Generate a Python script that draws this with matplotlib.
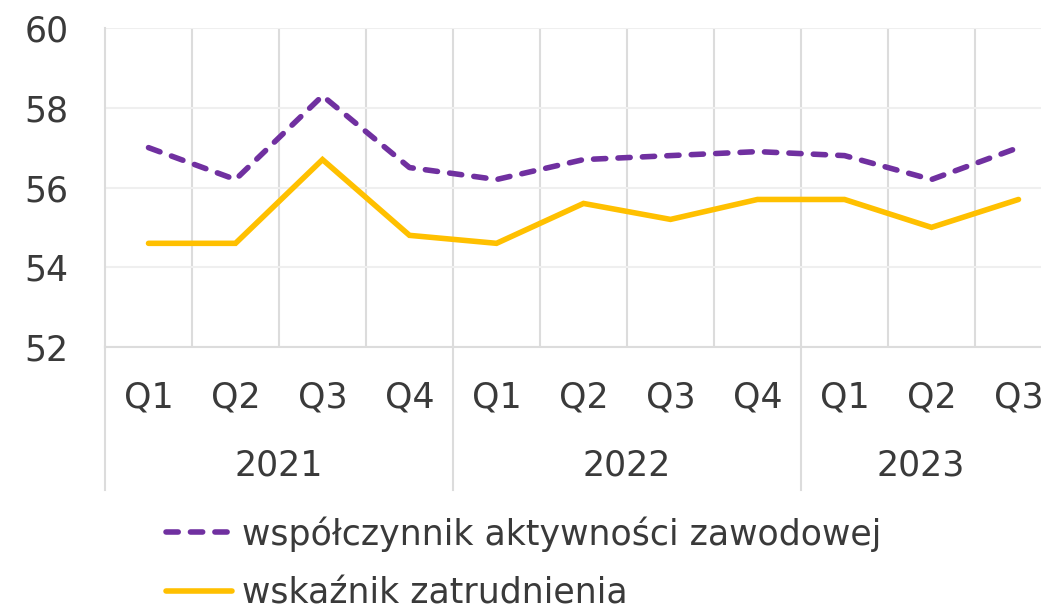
import matplotlib
matplotlib.use("Agg")
import matplotlib.pyplot as plt
import matplotlib.transforms as mtransforms
from matplotlib.lines import Line2D
import numpy as np

# data
quarters = ["Q1", "Q2", "Q3", "Q4", "Q1", "Q2", "Q3", "Q4", "Q1", "Q2", "Q3"]
years = ["2021", "2022", "2023"]
year_start = [0, 4, 8]  # index of first quarter in each year
activity = [57.0, 56.2, 58.3, 56.5, 56.2, 56.7, 56.8, 56.9, 56.8, 56.2, 57.0]
employment = [54.6, 54.6, 56.7, 54.8, 54.6, 55.6, 55.2, 55.7, 55.7, 55.0, 55.7]
labels = ["współczynnik aktywności zawodowej", "wskaźnik zatrudnienia"]

purple = "#7030A0"
yellow = "#FFC000"
txt = "#3a3a3a"
plt.rcParams['font.family'] = ['DejaVu Sans']
fs = 25

W, H = 1041, 609
fig = plt.figure(figsize=(W / 100, H / 100), dpi=100)
# plot area runs past the right edge of the picture (clipped like the original)
x0, x1, y_top, y_bot = 105, 1062, 28, 347
ax = fig.add_axes([x0 / W, 1 - y_bot / H, (x1 - x0) / W, (y_bot - y_top) / H])

x = np.arange(len(quarters))
ax.plot(x, activity, color=purple, lw=4, linestyle=(0, (2.2, 2.2)),
        dash_capstyle="round", solid_capstyle="round", label=labels[0])
ax.plot(x, employment, color=yellow, lw=4, solid_capstyle="round",
        solid_joinstyle="miter", label=labels[1])

ax.set_xlim(-0.5, len(quarters) - 0.5)
ax.set_ylim(52, 60)
ax.set_yticks(np.arange(52, 61, 2))
ax.tick_params(axis="y", length=0, pad=26, labelsize=fs, labelcolor=txt)
ax.set_xticks([])
ax.set_xticks(np.arange(0.5, len(quarters) - 0.5, 1), minor=True)
ax.tick_params(axis="x", which="both", length=0, labelbottom=False)
ax.grid(axis="y", color="#efefef", lw=1.5)
ax.grid(axis="x", which="minor", color="#dcdcdc", lw=1.5)
ax.set_axisbelow(True)
for s in ["top", "right"]:
    ax.spines[s].set_visible(False)
for s in ["bottom", "left"]:
    ax.spines[s].set_color("#dcdcdc")
    ax.spines[s].set_linewidth(1.5)

# two-level category axis (last label runs off the edge, as in the original)
tr = mtransforms.blended_transform_factory(ax.transData, fig.transFigure)
for i, q in enumerate(quarters):
    ax.text(i, 1 - 397 / H, q, transform=tr, ha="center", va="center",
            fontsize=fs, color=txt, clip_on=False)

# visible right edge of the picture in data units
vis_right = ax.transData.inverted().transform((W, 0))[0]
bounds = [s - 0.5 for s in year_start] + [min(len(quarters) - 0.5, vis_right)]
for k, yr in enumerate(years):
    ax.text((bounds[k] + bounds[k + 1]) / 2, 1 - 466 / H, yr,
            transform=tr, ha="center", va="center", fontsize=fs, color=txt)
for s in year_start:
    fig.add_artist(Line2D([s - 0.5, s - 0.5], [1 - y_bot / H, 1 - 490 / H],
                          transform=tr, color="#dcdcdc", lw=1.5))

fig.legend(loc="upper left", bbox_to_anchor=(166 / W, 1 - 516 / H),
           frameon=False, fontsize=fs, handlelength=1.9, handletextpad=0.3,
           labelspacing=0.72, borderpad=0, borderaxespad=0,
           labelcolor=txt)

fig.savefig("out.png", dpi=100)
